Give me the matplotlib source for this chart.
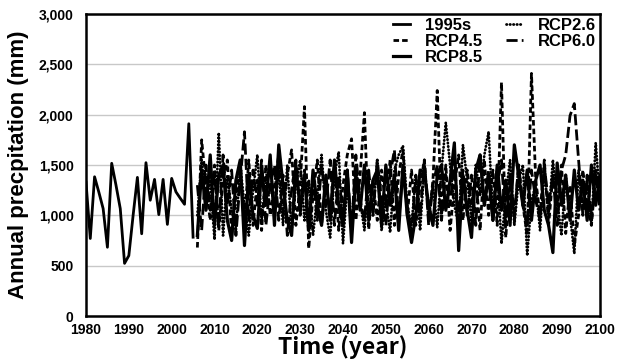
## Annual precipitation: observed 1995s and four RCP scenarios
import numpy as np
import matplotlib
matplotlib.use('Agg')
import matplotlib.pyplot as plt
from matplotlib import rcParams
from matplotlib.ticker import FuncFormatter

rcParams['font.family'] = 'sans-serif'
rcParams['font.sans-serif'] = ['Liberation Sans', 'DejaVu Sans']
rcParams['font.weight'] = 'bold'
rcParams['lines.scale_dashes'] = False

##------- data -------##
hist_years = np.arange(1980, 2006)
hist_1995s = [1330, 770, 1383, 1230, 1067, 683, 1517, 1300, 1067, 523,
              600, 1000, 1377, 817, 1523, 1150, 1357, 1007, 1357, 910,
              1367, 1233, 1170, 1110, 1910, 783]

fut_years = np.arange(2006, 2101)
rcp26 = [1000, 1550, 1150, 1350, 760, 1820, 800, 1400, 1050, 850,
         1500, 1100, 800, 1250, 1600, 950, 1300, 1550, 1000, 1450,
         900, 1500, 850, 1300, 1550, 950, 1350, 800, 1200, 1600,
         1050, 780, 1400, 1630, 720, 1300, 900, 1500, 1150, 850,
         1350, 1000, 1550, 850, 1150, 830, 1450, 1600, 1690, 1100,
         900, 1400, 850, 1500, 1000, 1300, 880, 1450, 1920, 1500,
         1100, 900, 1700, 1350, 950, 1500, 1200, 1600, 1830, 1000,
         1450, 720, 1200, 1550, 900, 1350, 1500, 600, 1150, 1300,
         850, 1450, 1000, 1550, 1150, 800, 1400, 1000, 620, 1450,
         1050, 1350, 900, 1720, 1150]
rcp45 = [680, 1750, 1300, 950, 1500, 850, 1350, 1550, 800, 1200,
         1450, 950, 1550, 900, 1350, 850, 1500, 1000, 1300, 1600,
         1000, 1400, 1650, 900, 1300, 2080, 670, 1200, 1550, 900,
         1350, 1000, 1500, 850, 1300, 1600, 1760, 950, 1400, 2020,
         860, 1350, 950, 1450, 1100, 1550, 900, 1400, 1650, 1000,
         1450, 900, 1300, 1550, 950, 1350, 2240, 1000, 1500, 850,
         1300, 1600, 950, 1450, 1100, 1400, 850, 1550, 1000, 1450,
         900, 2320, 780, 1350, 950, 1500, 1100, 800, 2410, 1350,
         1000, 1550, 900, 1400, 1100, 1500, 820, 1300, 700, 1000,
         1450, 1100, 900, 1400, 1050]
rcp60 = [1300, 850, 1500, 1050, 1400, 900, 1600, 1100, 1450, 800,
         1350, 1830, 950, 1450, 1100, 1550, 900, 1300, 1500, 950,
         1400, 800, 1250, 1550, 1000, 1450, 850, 1350, 950, 1500,
         1100, 1550, 900, 1400, 1000, 1450, 850, 1600, 1150, 950,
         1450, 1000, 1550, 1150, 900, 1400, 1650, 950, 1450, 1100,
         800, 1400, 1000, 1550, 900, 1300, 1500, 950, 1400, 1100,
         1550, 950, 1450, 1000, 1400, 900, 1600, 1100, 1450, 950,
         1300, 1550, 900, 1400, 1000, 1500, 1100, 900, 1450, 1150,
         950, 1500, 1100, 1400, 900, 1450, 1600, 1990, 2110, 1550,
         1000, 1400, 950, 1450, 1100]
rcp85 = [800, 1450, 1050, 1600, 900, 1400, 1500, 950, 750, 1350,
         1550, 700, 1400, 1000, 870, 1450, 1100, 1600, 900, 1700,
         1300, 950, 800, 1500, 1050, 1400, 850, 1450, 1100, 900,
         1400, 950, 1550, 1100, 900, 1450, 730, 1400, 1050, 1500,
         950, 1350, 1450, 900, 1500, 1100, 1400, 850, 1500, 1000,
         730, 1000, 1450, 1430, 1100, 900, 1400, 1500, 1050, 1350,
         1720, 650, 1400, 1050, 780, 1450, 1600, 1100, 1400, 950,
         1500, 1050, 1350, 900, 1700, 1400, 1100, 1450, 950, 1350,
         1500, 1050, 900, 630, 1520, 1100, 1400, 950, 1450, 1050,
         1350, 950, 1500, 1100, 1400]

##------- plot -------##
fig = plt.figure(figsize=(6.17, 3.63), dpi=100)
ax = fig.add_axes([86/617, 47/363, 514/617, 302/363])

lw = 2.0
h0, = ax.plot(hist_years, hist_1995s, '-', color='black', lw=lw, label='1995s')
h1, = ax.plot(fut_years, rcp26, color='black', lw=lw, dashes=(0.3, 2.2),
              dash_capstyle='round', label='RCP2.6')
h2, = ax.plot(fut_years, rcp45, color='black', lw=lw, dashes=(4, 2.2),
              label='RCP4.5')
h3, = ax.plot(fut_years, rcp60, color='black', lw=lw, dashes=(8, 3),
              label='RCP6.0')
h4, = ax.plot(fut_years, rcp85, '-', color='black', lw=lw + 0.3, label='RCP8.5')

ax.set_xlim(1980, 2100)
ax.set_ylim(0, 3000)
ax.set_xticks(np.arange(1980, 2101, 10))
ax.set_yticks(np.arange(0, 3001, 500))
ax.yaxis.set_major_formatter(FuncFormatter(lambda v, p: '{:,.0f}'.format(v)))
ax.tick_params(length=0, labelsize=10)
ax.tick_params(axis='y', pad=9)
ax.tick_params(axis='x', pad=5)
for lab in ax.get_xticklabels() + ax.get_yticklabels():
    lab.set_fontweight('bold')

ax.grid(True, axis='y', color='#c8c8c8', lw=1)
ax.set_axisbelow(True)
for s in ax.spines.values():
    s.set_linewidth(1.8)
    s.set_color('black')

ax.set_ylabel('Annual precpitation (mm)', fontsize=16, fontweight='bold', labelpad=7)
ax.set_xlabel('Time (year)', fontsize=16.5, fontweight='bold',
              family=['Noto Sans CJK KR', 'DejaVu Sans'], labelpad=-1)

## column-wise fill gives rows: 1995s/RCP2.6, RCP4.5/RCP6.0, RCP8.5
ax.legend([h0, h2, h4, h1, h3], ['1995s', 'RCP4.5', 'RCP8.5', 'RCP2.6', 'RCP6.0'],
          ncol=2, loc='upper right', bbox_to_anchor=(596/617, 1 - 18/363),
          bbox_transform=fig.transFigure, frameon=False, borderpad=0,
          borderaxespad=0, handlelength=1.0, handletextpad=0.9,
          columnspacing=1.4, labelspacing=0.05,
          prop={'size': 12, 'weight': 'bold'})

plt.savefig('out.png', dpi=100)
